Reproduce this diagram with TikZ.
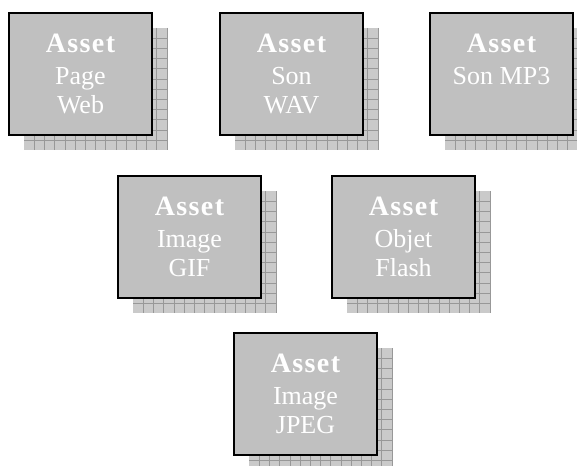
\documentclass[tikz,border=0pt]{standalone}
\usepackage{fontspec}
\setmainfont{Liberation Serif}
\usepackage{tikz}
\usetikzlibrary{calc,backgrounds}
\definecolor{boxgray}{RGB}{192,192,192}
\definecolor{shadowgray}{RGB}{202,202,202}
\definecolor{gridgray}{RGB}{152,152,152}

\tikzset{
  assetbox/.style={draw=black, line width=2pt, fill=boxgray, inner sep=0pt, text=white},
  shadowfill/.style={fill=shadowgray},
  shadowline/.style={draw=gridgray, line width=0.6pt}
}
% box label: "Asset" on top, then the kind of asset
\newcommand{\asset}[1]{\parbox[c][122pt][t]{143pt}{\centering\vspace*{21pt}%
  {\fontsize{28}{28}\selectfont\bfseries\addfontfeatures{LetterSpace=5}Asset\par}%
  \vspace{3pt}\fontsize{26}{29}\selectfont #1\par}}

\begin{document}
\begin{tikzpicture}[x=1pt,y=-1pt]
        \useasboundingbox (0,0) rectangle (577,465);
        \def\w{143}
        \def\h{122}
        \def\off{16}
        %Boxes
        \node[assetbox] (page)  at (80.5,74)   {\asset{Page\\Web}};
        \node[assetbox] (wav)   at (291.5,74)  {\asset{Son\\WAV}};
        \node[assetbox] (mp3)   at (501.5,74)  {\asset{Son MP3}};
        \node[assetbox] (gif)   at (189.5,237) {\asset{Image\\GIF}};
        \node[assetbox] (flash) at (403.5,237) {\asset{Objet\\Flash}};
        \node[assetbox] (jpeg)  at (305.5,394) {\asset{Image\\JPEG}};
        %Shadows
        \begin{scope}[on background layer]
          \foreach \b in {page,wav,mp3,gif,flash,jpeg}{
            \begin{scope}[shift={($(\b.north west)+(\off,\off)$)}]
              \fill[shadowfill] (0,0) rectangle (\w,\h);
              \foreach \i in {1,...,14}
                \draw[shadowline] (\i*10.2,0) -- (\i*10.2,\h);
              \foreach \j in {1,...,11}
                \draw[shadowline] (0,\j*10.2) -- (\w,\j*10.2);
            \end{scope}
          }
        \end{scope}
\end{tikzpicture}
\end{document}
